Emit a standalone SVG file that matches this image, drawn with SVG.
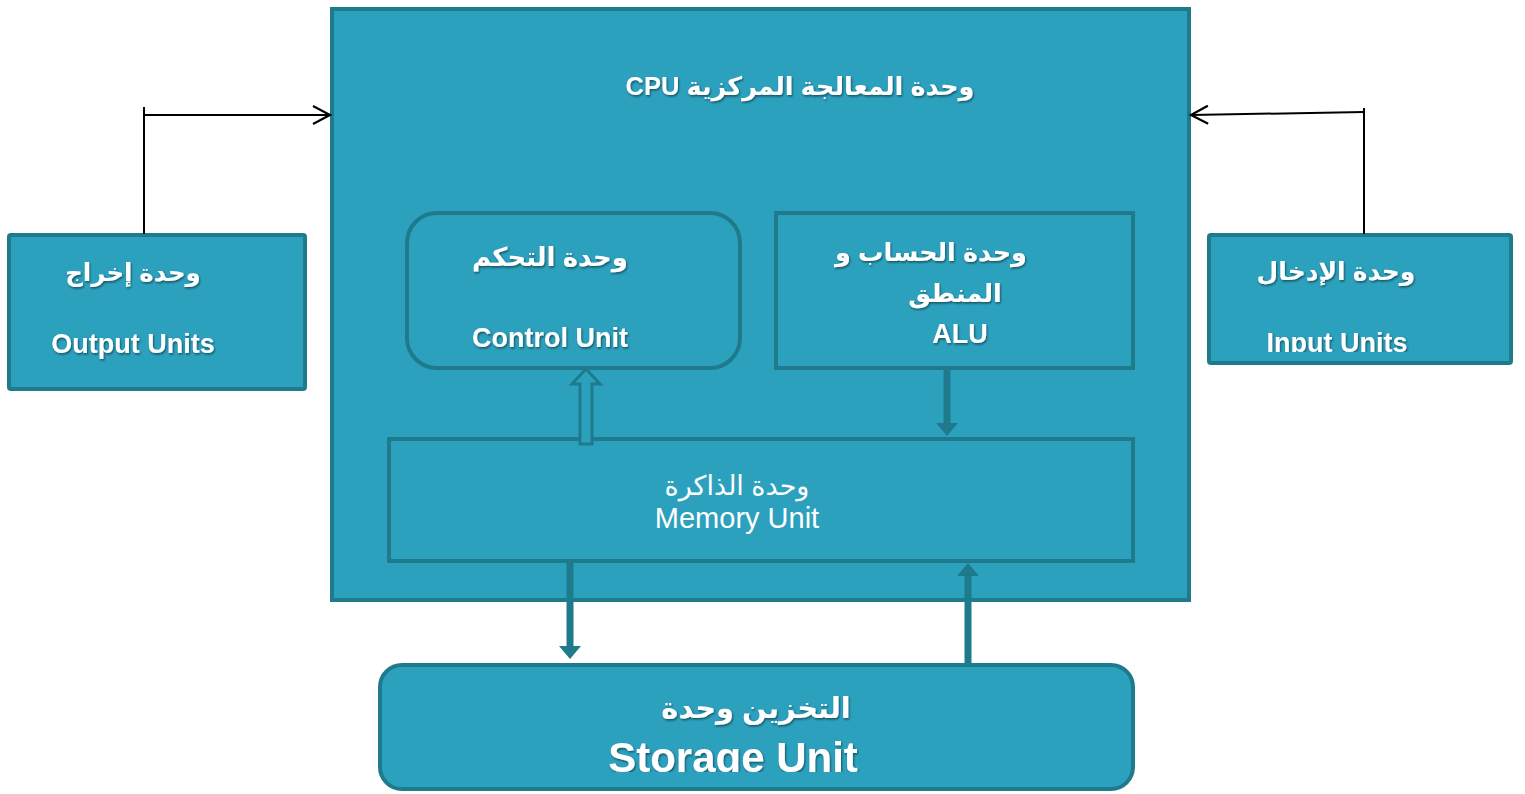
<svg xmlns="http://www.w3.org/2000/svg" width="1525" height="794" viewBox="0 0 1525 794">
<defs>
<style>
.box{fill:#2ca1be;stroke:#1f7a8c;stroke-width:4}
.t{font-family:"Liberation Sans","DejaVu Sans",sans-serif;fill:#fff;text-anchor:middle;font-weight:bold;filter:url(#sh)}
.ar{direction:rtl;unicode-bidi:embed}
.reg{font-weight:normal;filter:none}
.blk{stroke:#000;stroke-width:2;fill:none}
.thick{stroke:#1f7a8c;stroke-width:7;fill:none}
.head{fill:#1f7a8c}
</style>
<filter id="sh" x="-10%" y="-30%" width="120%" height="160%">
<feDropShadow dx="1" dy="1.5" stdDeviation="0.8" flood-color="#000" flood-opacity="0.5"/>
</filter>
<marker id="open" markerWidth="24" markerHeight="24" refX="20" refY="12" orient="auto" markerUnits="userSpaceOnUse">
<path d="M3,3 L20,12 L3,21" fill="none" stroke="#000" stroke-width="2.2"/>
</marker>
<clipPath id="clipIn"><rect x="1209" y="234" width="302" height="118"/></clipPath>
<clipPath id="clipSt"><rect x="379" y="664" width="754" height="108"/></clipPath>
</defs>

<g id="cpu">
<rect class="box" x="332" y="9" width="857" height="591"/>
<text class="t ar" x="800" y="95" font-size="25.5">وحدة المعالجة المركزية CPU</text>
</g>

<g id="output">
<rect class="box" x="9" y="235" width="296" height="154" rx="2"/>
<text class="t ar" x="133" y="281" font-size="24.5">وحدة إخراج</text>
<text class="t" x="133" y="353" font-size="27">Output Units</text>
</g>

<g id="input">
<rect class="box" x="1209" y="235" width="302" height="128" rx="2"/>
<text class="t ar" x="1336" y="280" font-size="25">وحدة الإدخال</text>
<g clip-path="url(#clipIn)"><text class="t" x="1337" y="352" font-size="27">Input Units</text></g>
</g>

<g id="control">
<rect class="box" x="407" y="213" width="333" height="155" rx="30"/>
<text class="t ar" x="550" y="266" font-size="26">وحدة التحكم</text>
<text class="t" x="550" y="347" font-size="27">Control Unit</text>
</g>

<g id="alu">
<rect class="box" x="776" y="213" width="357" height="155"/>
<text class="t ar" x="931" y="261" font-size="25.5">وحدة الحساب و</text>
<text class="t ar" x="955" y="302" font-size="25.5">المنطق</text>
<text class="t" x="960" y="343" font-size="27">ALU</text>
</g>

<g id="memory">
<rect class="box" x="389" y="439" width="744" height="122"/>
<text class="t ar reg" x="737" y="495" font-size="27">وحدة الذاكرة</text>
<text class="t reg" x="737" y="528" font-size="29">Memory Unit</text>
</g>

<g id="storage">
<rect class="box" x="380" y="665" width="753" height="124" rx="22"/>
<text class="t ar" x="756" y="718" font-size="29">التخزين وحدة</text>
<g clip-path="url(#clipSt)"><text class="t" x="733" y="772" font-size="42">Storage Unit</text></g>
</g>

<g id="connectors">
<path class="blk" d="M144,234 V107"/>
<path class="blk" d="M144,115 H330" marker-end="url(#open)"/>
<path class="blk" d="M1364,234 V108"/>
<path class="blk" d="M1364,112 L1191,115" marker-end="url(#open)"/>
<polygon points="586,369 600,384 592,384 592,444 580,444 580,384 572,384" fill="#2ca1be" stroke="#1f7a8c" stroke-width="3"/>
<path class="thick" d="M947,368 V424"/>
<polygon class="head" points="936,423 958,423 947,436"/>
<path class="thick" d="M570,561 V648"/>
<polygon class="head" points="559,646 581,646 570,659"/>
<path class="thick" d="M968,664 V575"/>
<polygon class="head" points="957,576 979,576 968,563"/>
</g>
</svg>
